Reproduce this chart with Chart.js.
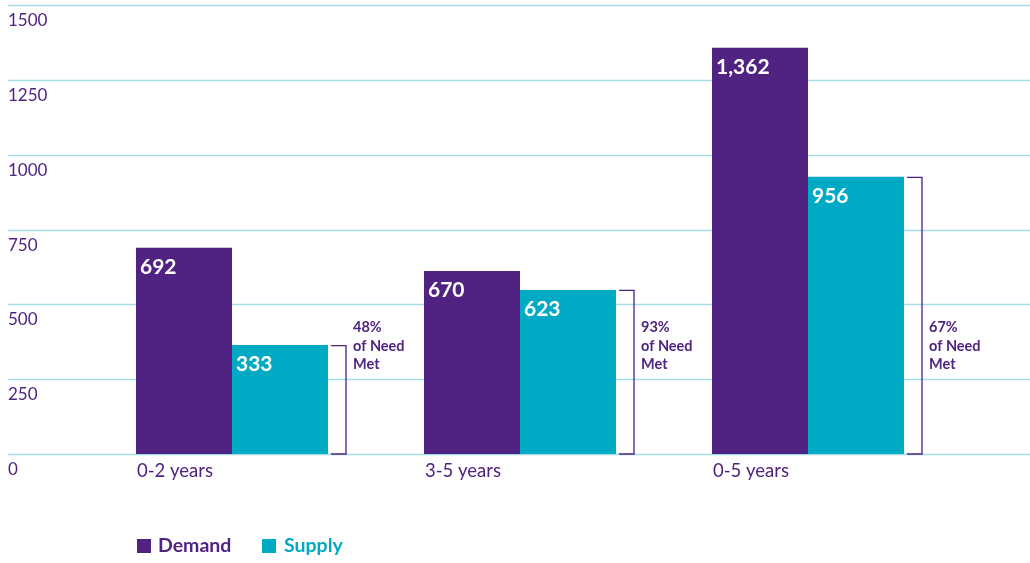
<!DOCTYPE html>
<html><head><meta charset="utf-8">
<script src="https://cdn.jsdelivr.net/npm/chart.js@4.4.1/dist/chart.umd.min.js"></script>
<style>html,body{margin:0;padding:0;background:#fff}#wrap{width:1030px;height:563px}</style>
</head><body><div id="wrap"><canvas id="c" width="1030" height="563"></canvas></div>
<script>
const categories = ["0-2 years", "3-5 years", "0-5 years"];
// bar heights as drawn in the picture
const demand = [689, 611, 1357];
const supply = [364, 548, 926];
// printed value labels
const demandLabels = ["692", "670", "1,362"];
const supplyLabels = ["333", "623", "956"];
const needMet = ["48%", "93%", "67%"];
const yTicks = [0, 250, 500, 750, 1000, 1250, 1500];
const seriesNames = ["Demand", "Supply"];

const PURPLE = "#502382";
const TEAL = "#00aac5";
const GRID = "#a6dce6";
const FONT = "Lato, 'Open Sans', sans-serif";

const overlay = {
  id: "overlay",
  beforeDatasetsDraw(chart) {
    const ctx = chart.ctx, y = chart.scales.y;
    ctx.save();
    ctx.strokeStyle = GRID; ctx.lineWidth = 1.5;
    ctx.fillStyle = PURPLE; ctx.font = "17px " + FONT;
    ctx.textBaseline = "top"; ctx.textAlign = "left";
    yTicks.forEach(v => {
      const py = Math.round(y.getPixelForValue(v)) + 0.5;
      ctx.beginPath(); ctx.moveTo(8, py); ctx.lineTo(1030, py); ctx.stroke();
      ctx.fillText(String(v), 8, py + 7);
    });
    ctx.restore();
  },
  afterDatasetsDraw(chart) {
    const ctx = chart.ctx, y = chart.scales.y;
    const m0 = chart.getDatasetMeta(0), m1 = chart.getDatasetMeta(1);
    const base = y.getPixelForValue(0);
    ctx.save();
    // value labels
    ctx.fillStyle = "#fff"; ctx.font = "bold 21px " + FONT;
    ctx.textAlign = "left"; ctx.textBaseline = "top";
    m0.data.forEach((b, i) => ctx.fillText(demandLabels[i], b.x - b.width / 2 + 4, b.y + 9));
    m1.data.forEach((b, i) => ctx.fillText(supplyLabels[i], b.x - b.width / 2 + 4, b.y + 9));
    // category labels
    ctx.fillStyle = PURPLE; ctx.font = "18.5px " + FONT;
    m0.data.forEach((b, i) => ctx.fillText(categories[i], b.x - b.width / 2 + 1, base + 8));
    // brackets + annotations
    m1.data.forEach((b, i) => {
      const r = b.x + b.width / 2;
      ctx.strokeStyle = PURPLE; ctx.lineWidth = 1.3;
      ctx.beginPath();
      ctx.moveTo(r + 3, b.y + 0.5); ctx.lineTo(r + 18, b.y + 0.5);
      ctx.lineTo(r + 18, base); ctx.lineTo(r + 3, base);
      ctx.stroke();
      ctx.fillStyle = PURPLE; ctx.font = "bold 14.5px " + FONT;
      ctx.textBaseline = "middle";
      const ty = y.getPixelForValue(423);
      [needMet[i], "of Need", "Met"].forEach((t, k) => ctx.fillText(t, r + 25, ty + k * 18.5));
    });
    // legend
    ctx.textBaseline = "middle";
    ctx.font = "bold 19.5px " + FONT;
    const ly = 546;
    ctx.fillStyle = PURPLE; ctx.fillRect(137, ly - 7, 14, 14);
    ctx.fillText(seriesNames[0], 158, ly);
    ctx.fillStyle = TEAL; ctx.fillRect(262, ly - 7, 14, 14);
    ctx.fillText(seriesNames[1], 284, ly);
    ctx.restore();
  }
};

new Chart(document.getElementById("c"), {
  type: "bar",
  data: {
    labels: categories,
    datasets: [
      { label: seriesNames[0], data: demand, backgroundColor: PURPLE },
      { label: seriesNames[1], data: supply, backgroundColor: TEAL }
    ]
  },
  options: {
    responsive: false, animation: false,
    layout: { padding: { left: 88, right: 78, top: 5, bottom: 109 } },
    datasets: { bar: { barPercentage: 1, categoryPercentage: 0.6667 } },
    scales: {
      x: { display: false },
      y: { display: false, min: 0, max: 1500 }
    },
    plugins: { legend: { display: false }, tooltip: { enabled: false } }
  },
  plugins: [overlay]
});
</script></body></html>
